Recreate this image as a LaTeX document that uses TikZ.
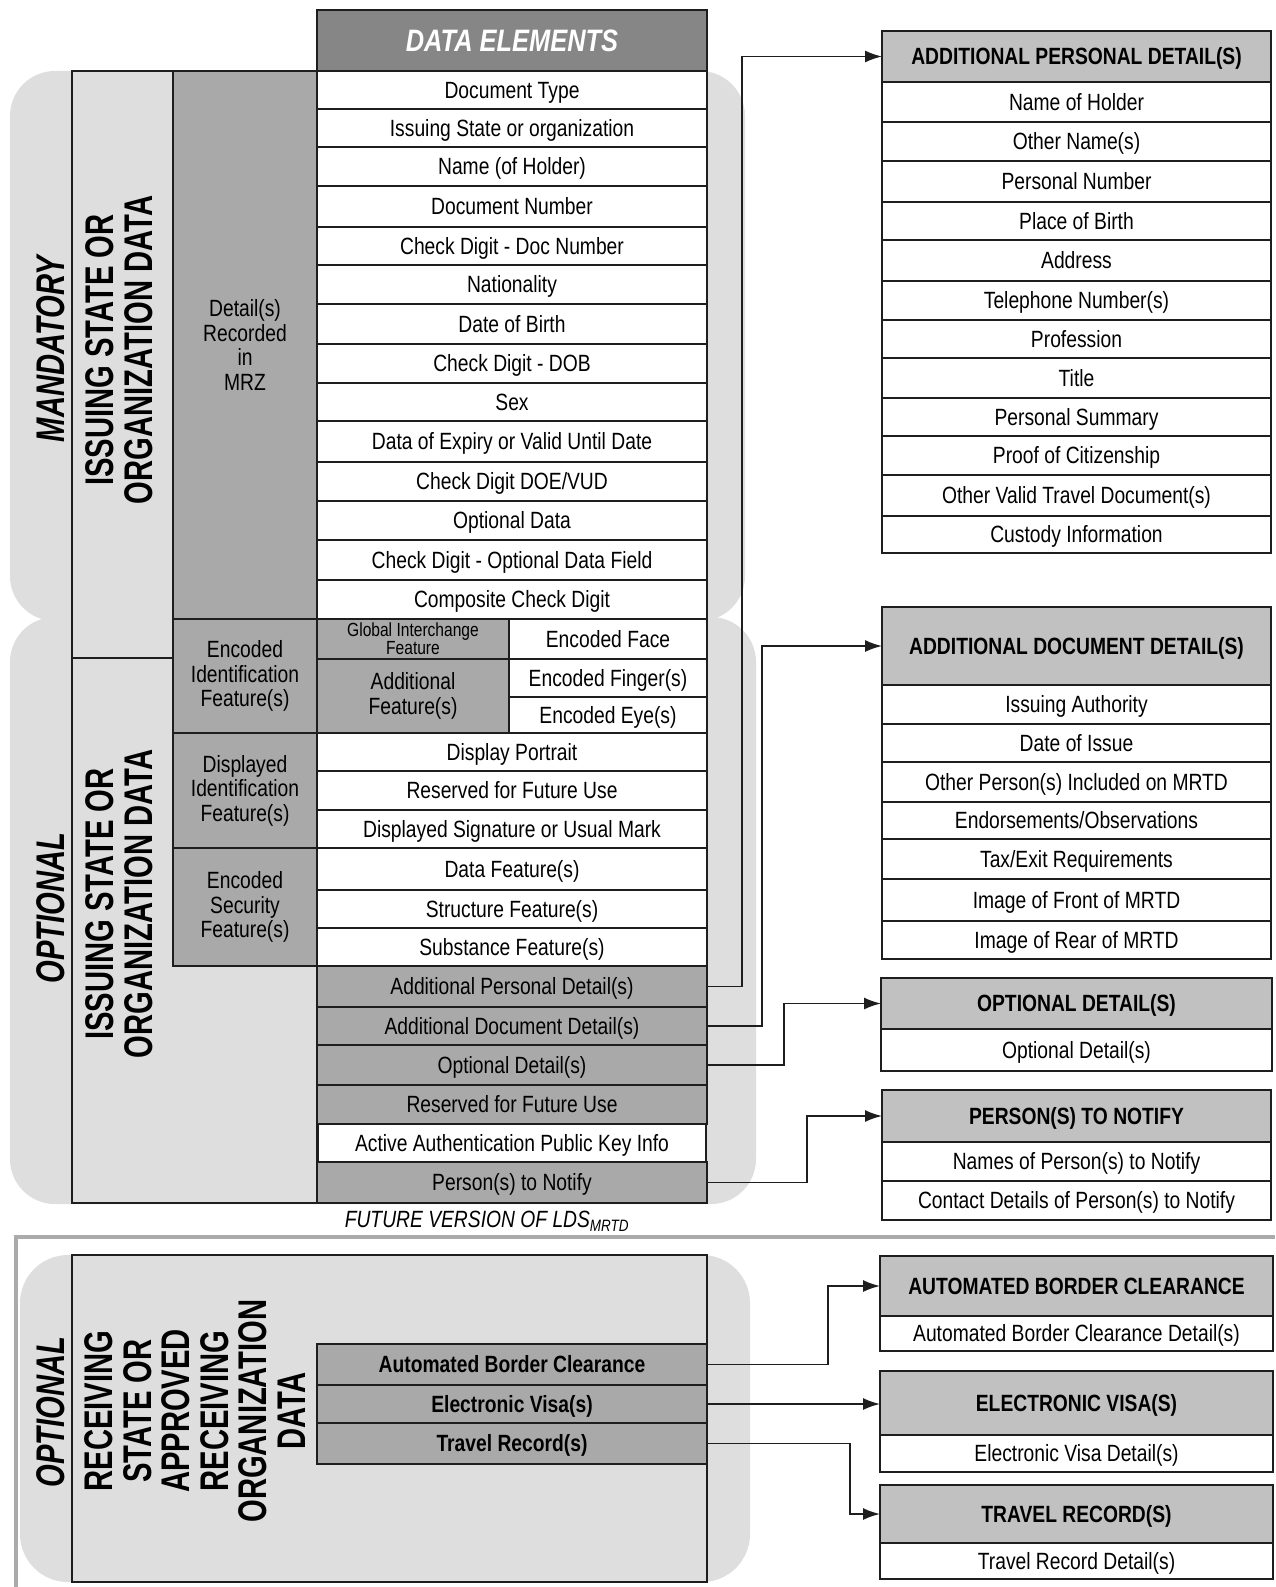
\documentclass[tikz,border=0pt]{standalone}
\usepackage{fontspec}
\setmainfont{Liberation Sans}[FakeStretch=0.82]
\newfontfamily\bigfam{Liberation Sans}[FakeStretch=0.73]
\usetikzlibrary{arrows.meta}
\definecolor{bgL}{HTML}{DEDEDE}
\definecolor{gMid}{HTML}{A9A9A9}
\definecolor{gDark}{HTML}{868686}
\definecolor{gHead}{HTML}{C1C1C1}
\definecolor{sepG}{HTML}{ABABAB}
\definecolor{ink}{HTML}{1E1E1E}
\newcommand\cel[7]{\node[#6, minimum width={#4pt-#2pt}, minimum height={#5pt-#3pt}] (#1) at ({(#2+#4)/2},{(#3+#5)/2}) {#7};}
\tikzset{
 base/.style={draw=ink, line width=2.2pt, inner sep=0pt, outer sep=0pt, font=\fontsize{23.5}{24}\selectfont},
 one/.style={text height=16.8pt, text depth=0pt},
 wc/.style={base, one, fill=white},
 gc/.style={base, one, fill=gMid},
 gm/.style={base, fill=gMid, align=center, font=\fontsize{23.5}{24.5}\selectfont},
 hc/.style={base, one, fill=gHead, font=\fontsize{23.5}{24}\selectfont\bfseries},
 bc/.style={base, one, fill=gMid, font=\fontsize{23.5}{24}\selectfont\bfseries},
 big/.style={rotate=90, align=center, inner sep=0pt, font=\bigfam\fontsize{40}{38.5}\selectfont\bfseries},
 bigi/.style={big, font=\bigfam\fontsize{40}{38.5}\selectfont\bfseries\itshape},
 conn/.style={draw=ink, line width=1.6pt, -{Latex[length=17pt,width=12pt]}},
}
\begin{document}
\begin{tikzpicture}[x=1pt,y=-1pt]
\useasboundingbox (0,0) rectangle (1275,1587);
\fill[white] (0,0) rectangle (1275,1587);
% backgrounds
\fill[bgL, rounded corners=45pt] (10,71) rectangle (745,621);
\fill[bgL, rounded corners=45pt] (10,617) rectangle (756,1204);
\fill[bgL, rounded corners=48pt] (20,1255) rectangle (750,1582);
\draw[sepG, line width=4pt] (1275,1237) -- (16,1237) -- (16,1587);
% column frames
\cel{colM}{72}{71}{173}{658}{base}{}
\cel{colO}{72}{658}{317}{1203}{base}{}
\cel{colR}{72}{1255}{707}{1582}{base}{}
% header
\cel{de}{317}{10}{707}{71}{base, fill=gDark, text=white, font=\fontsize{31}{31}\selectfont\bfseries\itshape, text height=22pt, text depth=0pt}{DATA ELEMENTS}
% mandatory rows
\cel{r1}{317}{71}{707}{109}{wc}{Document Type}
\cel{r2}{317}{109}{707}{147}{wc}{Issuing State or organization}
\cel{r3}{317}{147}{707}{186}{wc}{Name (of Holder)}
\cel{r4}{317}{186}{707}{227}{wc}{Document Number}
\cel{r5}{317}{227}{707}{265}{wc}{Check Digit - Doc Number}
\cel{r6}{317}{265}{707}{304}{wc}{Nationality}
\cel{r7}{317}{304}{707}{344}{wc}{Date of Birth}
\cel{r8}{317}{344}{707}{383}{wc}{Check Digit - DOB}
\cel{r9}{317}{383}{707}{421}{wc}{Sex}
\cel{r10}{317}{421}{707}{462}{wc}{Data of Expiry or Valid Until Date}
\cel{r11}{317}{462}{707}{501}{wc}{Check Digit DOE/VUD}
\cel{r12}{317}{501}{707}{540}{wc}{Optional Data}
\cel{r13}{317}{540}{707}{580}{wc}{Check Digit - Optional Data Field}
\cel{r14}{317}{580}{707}{619}{wc}{Composite Check Digit}
\cel{mrz}{173}{71}{317}{619}{gm}{Detail(s)\\Recorded\\in\\MRZ}
% optional rows
\cel{gif}{317}{619}{509}{659}{gm, font=\fontsize{19}{18}\selectfont}{Global Interchange\\Feature}
\cel{ef}{509}{619}{707}{659}{wc}{Encoded Face}
\cel{af}{317}{659}{509}{733}{gm}{Additional\\Feature(s)}
\cel{efi}{509}{659}{707}{697}{wc}{Encoded Finger(s)}
\cel{eey}{509}{697}{707}{733}{wc}{Encoded Eye(s)}
\cel{eif}{173}{619}{317}{733}{gm}{Encoded\\Identification\\Feature(s)}
\cel{dp}{317}{733}{707}{771}{wc}{Display Portrait}
\cel{rf1}{317}{771}{707}{810}{wc}{Reserved for Future Use}
\cel{ds}{317}{810}{707}{848}{wc}{Displayed Signature or Usual Mark}
\cel{dif}{173}{733}{317}{848}{gm}{Displayed\\Identification\\Feature(s)}
\cel{df}{317}{848}{707}{890}{wc}{Data Feature(s)}
\cel{sf}{317}{890}{707}{928}{wc}{Structure Feature(s)}
\cel{subf}{317}{928}{707}{966}{wc}{Substance Feature(s)}
\cel{esf}{173}{848}{317}{966}{gm}{Encoded\\Security\\Feature(s)}
\cel{apd}{317}{966}{707}{1007}{gc}{Additional Personal Detail(s)}
\cel{add}{317}{1007}{707}{1045}{gc}{Additional Document Detail(s)}
\cel{optd}{317}{1045}{707}{1085}{gc}{Optional Detail(s)}
\cel{rf2}{317}{1085}{707}{1124}{gc}{Reserved for Future Use}
\cel{aa}{318}{1124}{706}{1162}{wc}{Active Authentication Public Key Info}
\cel{ptn}{317}{1162}{707}{1203}{gc}{Person(s) to Notify}
% receiving rows
\cel{abc}{317}{1344}{707}{1385}{bc}{Automated Border Clearance}
\cel{ev}{317}{1385}{707}{1423}{bc}{Electronic Visa(s)}
\cel{tr}{317}{1423}{707}{1464}{bc}{Travel Record(s)}
% right: additional personal details
\cel{APDh}{882}{31}{1271}{82}{hc}{ADDITIONAL PERSONAL DETAIL(S)}
\cel{p1}{882}{82}{1271}{122}{wc}{Name of Holder}
\cel{p2}{882}{122}{1271}{161}{wc}{Other Name(s)}
\cel{p3}{882}{161}{1271}{202}{wc}{Personal Number}
\cel{p4}{882}{202}{1271}{240}{wc}{Place of Birth}
\cel{p5}{882}{240}{1271}{281}{wc}{Address}
\cel{p6}{882}{281}{1271}{320}{wc}{Telephone Number(s)}
\cel{p7}{882}{320}{1271}{358}{wc}{Profession}
\cel{p8}{882}{358}{1271}{398}{wc}{Title}
\cel{p9}{882}{398}{1271}{436}{wc}{Personal Summary}
\cel{p10}{882}{436}{1271}{475}{wc}{Proof of Citizenship}
\cel{p11}{882}{475}{1271}{516}{wc}{Other Valid Travel Document(s)}
\cel{p12}{882}{516}{1271}{553}{wc}{Custody Information}
% additional document details
\cel{ADDh}{882}{607}{1271}{685}{hc}{ADDITIONAL DOCUMENT DETAIL(S)}
\cel{d1}{882}{685}{1271}{724}{wc}{Issuing Authority}
\cel{d2}{882}{724}{1271}{762}{wc}{Date of Issue}
\cel{d3}{882}{762}{1271}{802}{wc}{Other Person(s) Included on MRTD}
\cel{d4}{882}{802}{1271}{839}{wc}{Endorsements/Observations}
\cel{d5}{882}{839}{1271}{879}{wc}{Tax/Exit Requirements}
\cel{d6}{882}{879}{1271}{921}{wc}{Image of Front of MRTD}
\cel{d7}{882}{921}{1271}{959}{wc}{Image of Rear of MRTD}
% optional details
\cel{OPTh}{881}{978}{1272}{1029}{hc}{OPTIONAL DETAIL(S)}
\cel{o1}{881}{1029}{1272}{1071}{wc}{Optional Detail(s)}
% persons to notify
\cel{PTNh}{882}{1090}{1271}{1142}{hc}{PERSON(S) TO NOTIFY}
\cel{n1}{882}{1142}{1271}{1181}{wc}{Names of Person(s) to Notify}
\cel{n2}{882}{1181}{1271}{1220}{wc}{Contact Details of Person(s) to Notify}
% receiving state boxes
\cel{ABCh}{880}{1256}{1273}{1316}{hc}{AUTOMATED BORDER CLEARANCE}
\cel{a1}{880}{1316}{1273}{1351}{wc}{Automated Border Clearance Detail(s)}
\cel{EVh}{880}{1371}{1273}{1435}{hc}{ELECTRONIC VISA(S)}
\cel{e1}{880}{1435}{1273}{1472}{wc}{Electronic Visa Detail(s)}
\cel{TRh}{880}{1485}{1273}{1543}{hc}{TRAVEL RECORD(S)}
\cel{t1}{880}{1543}{1273}{1579}{wc}{Travel Record Detail(s)}
% connectors
\draw[conn] (apd.east) -- ++(35,0) |- (APDh.west);
\draw[conn] (add.east) -- ++(55,0) |- (ADDh.west);
\draw[conn] (optd.east) -- ++(77,0) |- (OPTh.west);
\draw[conn] (ptn.east) -- ++(100,0) |- (PTNh.west);
\draw[conn] (abc.east) -- ++(121,0) |- (ABCh.west);
\draw[conn] (ev.east) -- (ev.east -| EVh.west);
\draw[conn] (tr.east) -- ++(143,0) |- (TRh.west);
% rotated labels
\node[bigi] (mand) at (51,349) {MANDATORY};
\node[big] (iss1) at (119,350) {ISSUING STATE OR\\ORGANIZATION DATA};
\node[bigi] (opt1) at (51,908) {OPTIONAL};
\node[big] (iss2) at (119,904) {ISSUING STATE OR\\ORGANIZATION DATA};
\node[bigi] (opt2) at (51,1412) {OPTIONAL};
\node[big] (recv) at (195,1411) {RECEIVING\\STATE OR\\APPROVED\\RECEIVING\\ORGANIZATION\\DATA};
\node[font=\fontsize{23.5}{24}\selectfont\itshape] (fut) at (487,1221) {FUTURE VERSION OF LDS\textsubscript{MRTD}};
\end{tikzpicture}
\end{document}
